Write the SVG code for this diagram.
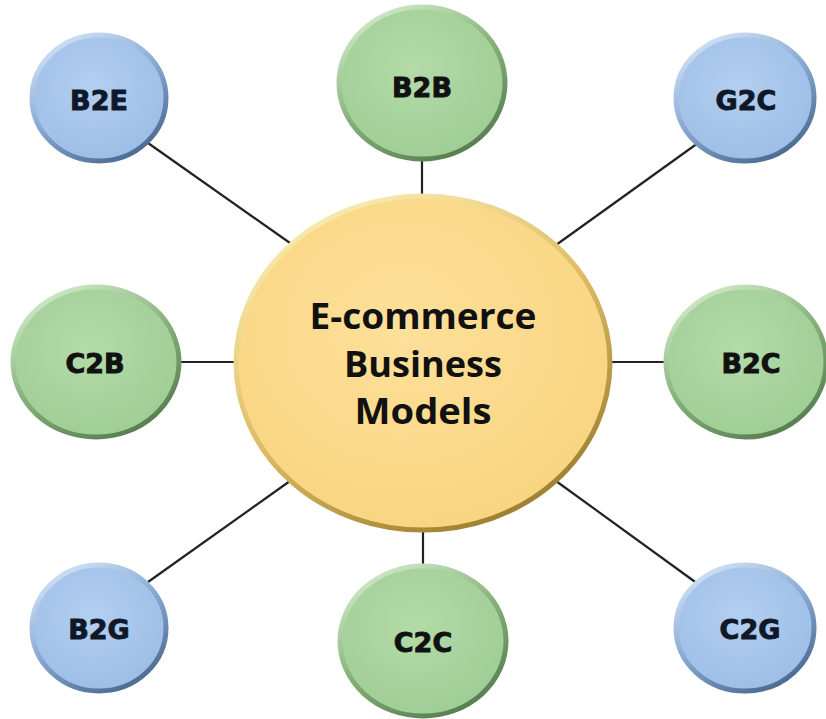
<svg xmlns="http://www.w3.org/2000/svg" width="826" height="719" viewBox="0 0 826 719">
  <defs>
    <radialGradient id="blueFill" cx="0.45" cy="0.4" r="0.65">
      <stop offset="0" stop-color="#b3cff0"/>
      <stop offset="1" stop-color="#9dbde6"/>
    </radialGradient>
    <linearGradient id="blueEdge" x1="0.2" y1="0" x2="0.8" y2="1">
      <stop offset="0" stop-color="#d2e3f7"/>
      <stop offset="0.5" stop-color="#86a6cf"/>
      <stop offset="1" stop-color="#45658c"/>
    </linearGradient>
    <radialGradient id="greenFill" cx="0.45" cy="0.4" r="0.65">
      <stop offset="0" stop-color="#b3dba9"/>
      <stop offset="1" stop-color="#9fcc94"/>
    </radialGradient>
    <linearGradient id="greenEdge" x1="0.2" y1="0" x2="0.8" y2="1">
      <stop offset="0" stop-color="#d3ecca"/>
      <stop offset="0.5" stop-color="#84b079"/>
      <stop offset="1" stop-color="#52794b"/>
    </linearGradient>
    <radialGradient id="yellowFill" cx="0.45" cy="0.4" r="0.65">
      <stop offset="0" stop-color="#fde09a"/>
      <stop offset="1" stop-color="#f8d47f"/>
    </radialGradient>
    <linearGradient id="yellowEdge" x1="0.2" y1="0" x2="0.8" y2="1">
      <stop offset="0" stop-color="#fbf0b8"/>
      <stop offset="0.5" stop-color="#dcbb62"/>
      <stop offset="1" stop-color="#96772a"/>
    </linearGradient>
  </defs>
  <style>
    .blue { fill: url(#blueFill); stroke: url(#blueEdge); stroke-width: 5; }
    .green { fill: url(#greenFill); stroke: url(#greenEdge); stroke-width: 5; }
    .yellow { fill: url(#yellowFill); stroke: url(#yellowEdge); stroke-width: 5; }
    .conn line { stroke: #222; stroke-width: 2.2; }
    .lbl { font-family: "DejaVu Sans", Verdana, sans-serif; font-weight: bold; font-size: 27px; text-anchor: middle; fill: #111; stroke: #111; stroke-width: 0.9; }
    .lblb { fill: #0e1828; stroke: #0e1828; }
    .main { font-family: "Open Sans", "Noto Sans", sans-serif; font-weight: bold; font-size: 35px; text-anchor: middle; fill: #111; }
  </style>
  <rect width="826" height="719" fill="#ffffff"/>
  <g id="connectors" class="conn">
    <line x1="148" y1="143" x2="290" y2="243"/>
    <line x1="698" y1="143" x2="556" y2="245"/>
    <line x1="422" y1="157" x2="422" y2="198"/>
    <line x1="177" y1="362" x2="238" y2="362"/>
    <line x1="608" y1="362" x2="668" y2="362"/>
    <line x1="148" y1="582" x2="290" y2="481"/>
    <line x1="698" y1="584" x2="556" y2="481"/>
    <line x1="423" y1="528" x2="423" y2="568"/>
  </g>
  <g id="center">
    <ellipse class="yellow" cx="423" cy="363" rx="187" ry="167"/>
    <text class="main" x="423" y="329" textLength="227" lengthAdjust="spacingAndGlyphs">E-commerce</text>
    <text class="main" x="423" y="377" textLength="158" lengthAdjust="spacingAndGlyphs">Business</text>
    <text class="main" x="423" y="424" textLength="137" lengthAdjust="spacingAndGlyphs">Models</text>
  </g>
  <g id="b2e">
    <ellipse class="blue" cx="99" cy="98" rx="67" ry="63"/>
    <text class="lbl lblb" x="99" y="110">B2E</text>
  </g>
  <g id="b2b">
    <ellipse class="green" cx="422" cy="83" rx="83" ry="76"/>
    <text class="lbl" x="422" y="97">B2B</text>
  </g>
  <g id="g2c">
    <ellipse class="blue" cx="745" cy="98" rx="69" ry="63"/>
    <text class="lbl lblb" x="746" y="110">G2C</text>
  </g>
  <g id="c2b">
    <ellipse class="green" cx="96" cy="362" rx="83" ry="75"/>
    <text class="lbl" x="95" y="373">C2B</text>
  </g>
  <g id="b2c">
    <ellipse class="green" cx="746" cy="362" rx="80" ry="75"/>
    <text class="lbl" x="751" y="373">B2C</text>
  </g>
  <g id="b2g">
    <ellipse class="blue" cx="99" cy="628" rx="67" ry="63"/>
    <text class="lbl lblb" x="99" y="639">B2G</text>
  </g>
  <g id="c2c">
    <ellipse class="green" cx="423" cy="641" rx="83" ry="75"/>
    <text class="lbl" x="423" y="652">C2C</text>
  </g>
  <g id="c2g">
    <ellipse class="blue" cx="745" cy="628" rx="69" ry="63"/>
    <text class="lbl lblb" x="750" y="639">C2G</text>
  </g>
</svg>
